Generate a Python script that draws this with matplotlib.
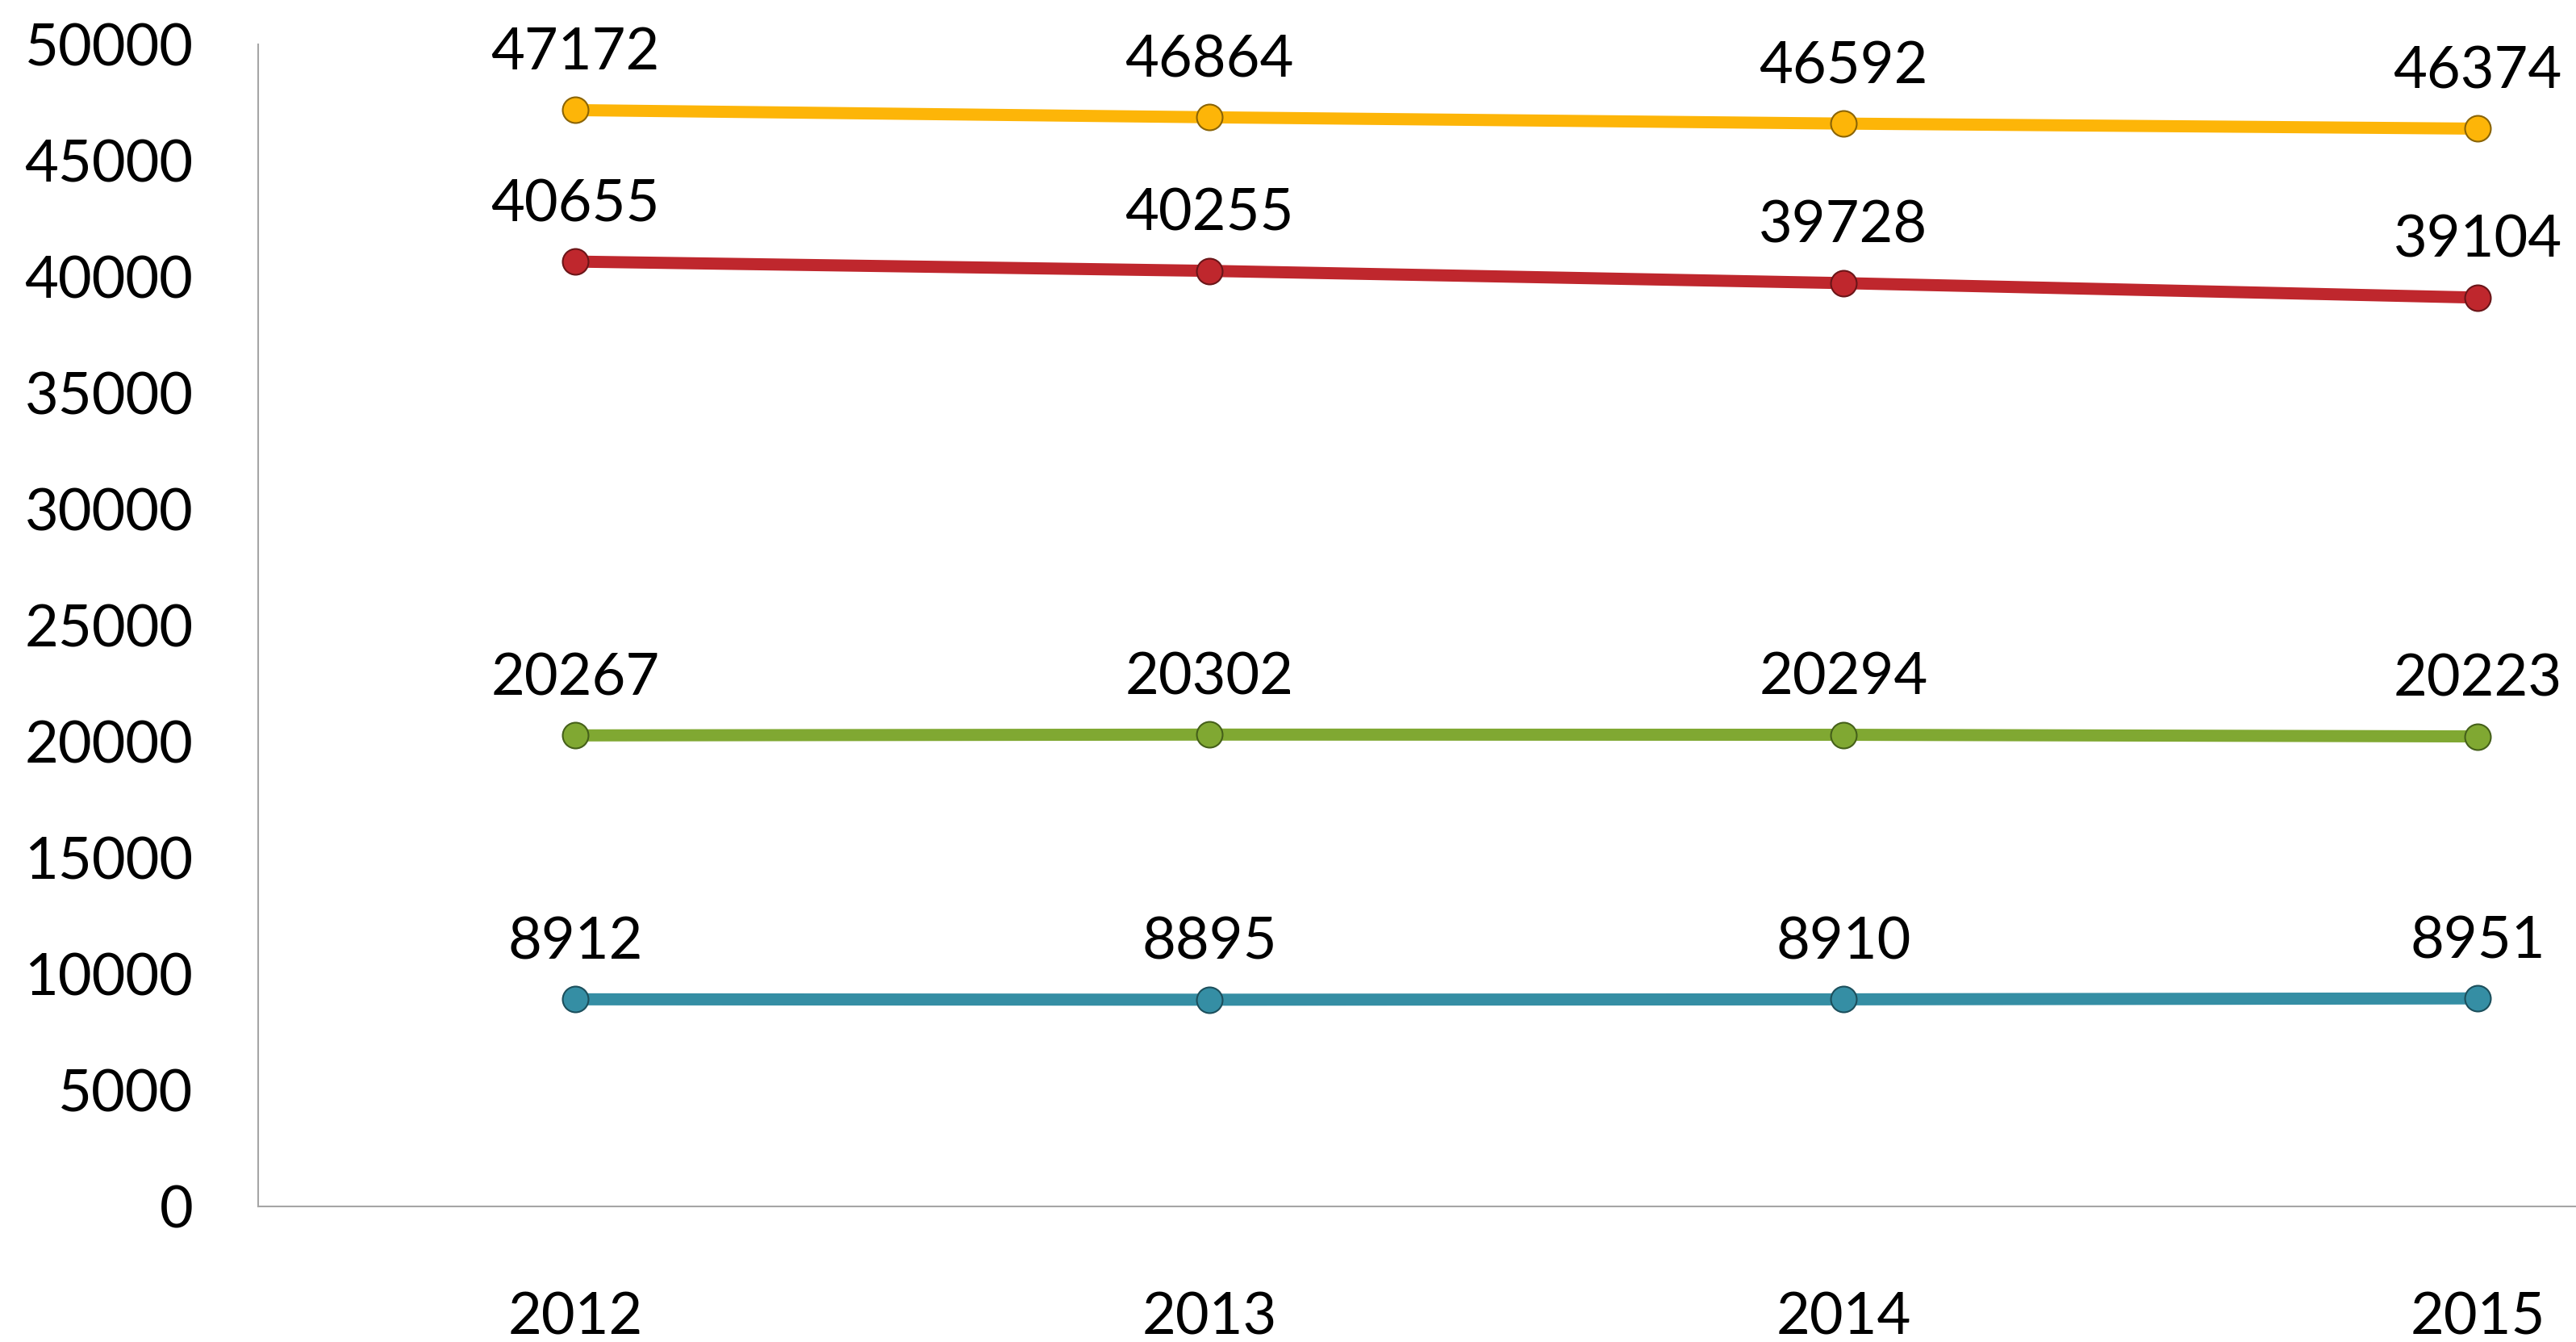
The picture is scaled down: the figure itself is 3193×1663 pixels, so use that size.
import matplotlib
matplotlib.use("Agg")
import matplotlib.pyplot as plt
import numpy as np

plt.rcParams['font.family'] = ['Lato', 'DejaVu Sans']

years = ['2012', '2013', '2014', '2015']
yellow = [47172, 46864, 46592, 46374]
red = [40655, 40255, 39728, 39104]
green = [20267, 20302, 20294, 20223]
teal = [8912, 8895, 8910, 8951]

series = [
    (yellow, '#FDB508', '#8A6406'),
    (red, '#BF272D', '#6A1518'),
    (green, '#80A832', '#45601A'),
    (teal, '#358EA4', '#1C4F5C'),
]

fig = plt.figure(figsize=(31.93, 16.63), dpi=100)
ax = fig.add_axes([320 / 3193, 168 / 1663, 4 * 786 / 3193, 1440 / 1663])

x = np.arange(len(years))
for vals, col, edge in series:
    ax.plot(x, vals, '-', color=col, lw=10.8, solid_capstyle='butt', zorder=2)
    ax.plot(x, vals, 'o', color=col, ms=23, mec=edge, mew=1.5, zorder=3)
    for xi, v in zip(x, vals):
        ax.annotate(str(v), (xi, v), xytext=(0, 36), textcoords='offset points',
                    ha='center', va='baseline', fontsize=52, color='black')

ax.set_xlim(-0.5, 3.5)
ax.set_ylim(0, 50000)
ax.set_yticks(np.arange(0, 50001, 5000))
ax.set_xticks(x)
ax.set_xticklabels(years)
ax.tick_params(axis='both', length=0, labelsize=52)
ax.tick_params(axis='y', pad=58)
ax.tick_params(axis='x', pad=76)

for s in ['top', 'right']:
    ax.spines[s].set_visible(False)
for s in ['left', 'bottom']:
    ax.spines[s].set_color('#A6A6A6')
    ax.spines[s].set_linewidth(1.5)

fig.savefig('out.png', dpi=100)
